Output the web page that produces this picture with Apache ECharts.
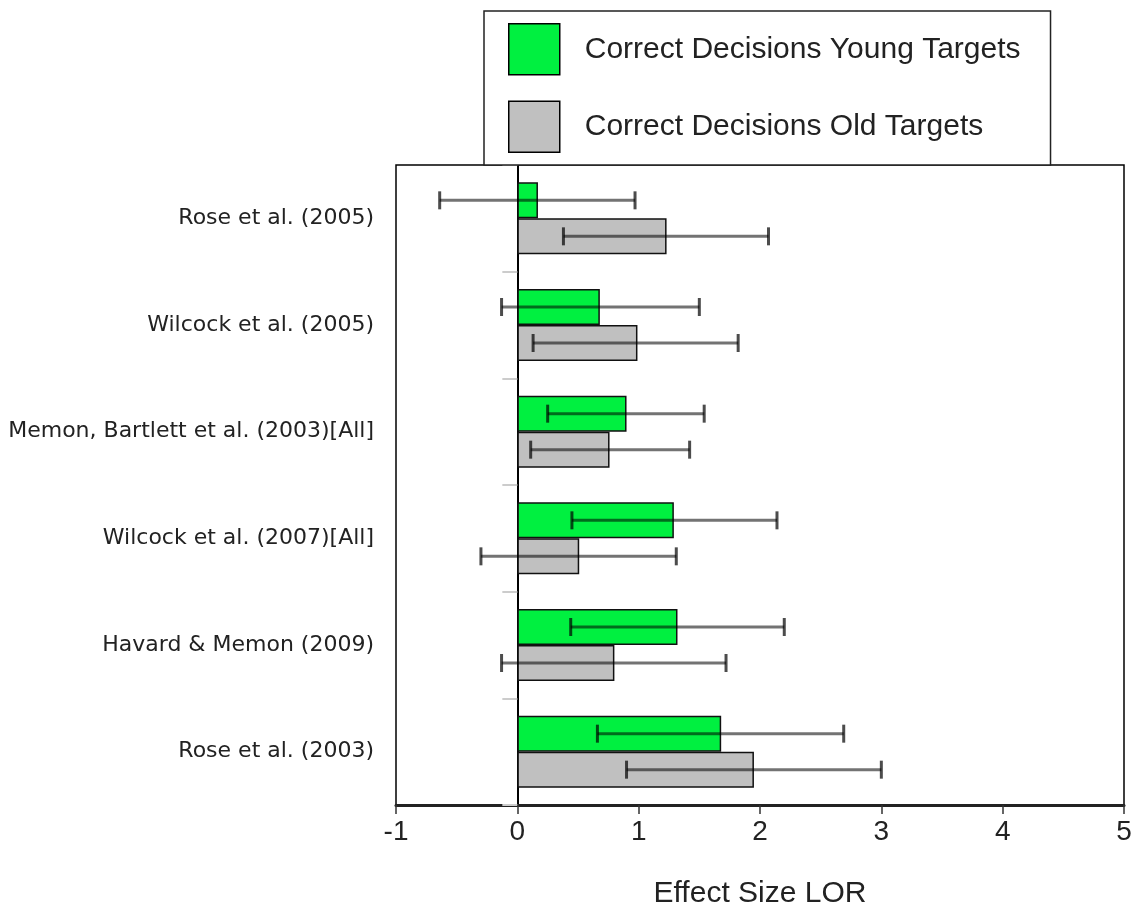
<!DOCTYPE html>
<html><head><meta charset="utf-8">
<script src="https://cdn.jsdelivr.net/npm/echarts@6/dist/echarts.min.js"></script>
<style>html,body{margin:0;padding:0;background:#fff}#c{width:1138px;height:912px}</style>
</head><body><div id="c"></div>
<script>
const categories = ["Rose et al. (2005)", "Wilcock et al. (2005)", "Memon, Bartlett et al. (2003)[All]", "Wilcock et al. (2007)[All]", "Havard & Memon (2009)", "Rose et al. (2003)"];
const seriesNames = ["Correct Decisions Young Targets", "Correct Decisions Old Targets"];
const youngValues = [0.17, 0.68, 0.90, 1.29, 1.32, 1.68];
const oldValues = [1.23, 0.99, 0.76, 0.51, 0.80, 1.95];
const youngLow = [-0.64, -0.13, 0.25, 0.45, 0.44, 0.66];
const youngHigh = [0.97, 1.50, 1.54, 2.14, 2.20, 2.69];
const oldLow = [0.38, 0.13, 0.11, -0.30, -0.13, 0.90];
const oldHigh = [2.07, 1.82, 1.42, 1.31, 1.72, 3.00];
const xTicks = [-1, 0, 1, 2, 3, 4, 5];

const BAR_W = 36;
const FONT = '"Liberation Sans", Arial, Helvetica, sans-serif';
const WIDE = '"DejaVu Sans", "Liberation Sans", sans-serif';

function errSeries(low, high, offset) {
  return {
    type: 'custom',
    z: 10,
    silent: true,
    data: low.map((l, i) => [l, high[i], i]),
    encode: { x: [0, 1], y: 2 },
    renderItem: function (params, api) {
      const cat = api.value(2);
      const p1 = api.coord([api.value(0), cat]);
      const p2 = api.coord([api.value(1), cat]);
      const y = p1[1] + offset;
      const cap = 9;
      const st = { stroke: 'rgba(0,0,0,0.55)', lineWidth: 3 };
      const cs = { stroke: 'rgba(0,0,0,0.7)', lineWidth: 3 };
      return {
        type: 'group',
        children: [
          { type: 'line', shape: { x1: p1[0], y1: y, x2: p2[0], y2: y }, style: st },
          { type: 'line', shape: { x1: p1[0], y1: y - cap, x2: p1[0], y2: y + cap }, style: cs },
          { type: 'line', shape: { x1: p2[0], y1: y - cap, x2: p2[0], y2: y + cap }, style: cs }
        ]
      };
    }
  };
}

const chart = echarts.init(document.getElementById('c'), null, { renderer: 'canvas' });
chart.setOption({
  animation: false,
  backgroundColor: '#fff',
  textStyle: { fontFamily: FONT },
  grid: { left: 396, right: 14, top: 165, bottom: 107, outerBoundsMode: 'none', containLabel: false, show: true, borderColor: '#000', borderWidth: 1.5, backgroundColor: 'transparent' },
  legend: {
    orient: 'vertical',
    left: 484, top: 11,
    padding: [12, 30, 12, 24],
    itemWidth: 51, itemHeight: 51, itemGap: 25,
    icon: 'rect',
    backgroundColor: '#fff',
    borderColor: '#222', borderWidth: 1.5,
    z: 20,
    data: seriesNames,
    textStyle: { fontSize: 30, color: '#222', fontFamily: FONT, padding: [0, 0, 0, 20] },
    itemStyle: { borderColor: '#000', borderWidth: 1.5 }
  },
  xAxis: {
    type: 'value', min: -1, max: 5, interval: 1,
    axisLine: { show: true, lineStyle: { color: '#222', width: 3 } },
    axisTick: { show: true, length: 9, lineStyle: { color: '#333', width: 1.5 } },
    axisLabel: { fontSize: 28, color: '#222', margin: 13, fontFamily: FONT, formatter: v => xTicks.includes(v) ? String(v) : '' },
    splitLine: { show: false },
    name: 'Effect Size LOR', nameLocation: 'middle', nameGap: 74,
    nameTextStyle: { fontSize: 30, color: '#222', fontFamily: FONT }
  },
  yAxis: [
    {
      type: 'category', data: categories, inverse: true, position: 'left',
      axisLine: { show: false, onZero: false },
      axisTick: { show: false },
      axisLabel: { fontSize: 22, color: '#222', margin: 22, fontFamily: WIDE }
    },
    {
      type: 'category', data: categories, inverse: true, position: 'right',
      axisLine: { show: true, onZero: true, lineStyle: { color: '#000', width: 2 } },
      axisTick: { show: true, inside: true, length: 15, lineStyle: { color: '#ccc', width: 2 } },
      axisLabel: { show: false }
    }
  ],
  series: [
    {
      name: seriesNames[0], type: 'bar', data: youngValues, barWidth: BAR_W, barGap: '0%', z: 5,
      itemStyle: { color: '#00F040', borderColor: '#111', borderWidth: 1.5 }
    },
    {
      name: seriesNames[1], type: 'bar', data: oldValues, barWidth: BAR_W, barGap: '0%', z: 5,
      itemStyle: { color: '#C0C0C0', borderColor: '#111', borderWidth: 1.5 }
    },
    errSeries(youngLow, youngHigh, -BAR_W / 2),
    errSeries(oldLow, oldHigh, BAR_W / 2)
  ]
});
</script></body></html>
